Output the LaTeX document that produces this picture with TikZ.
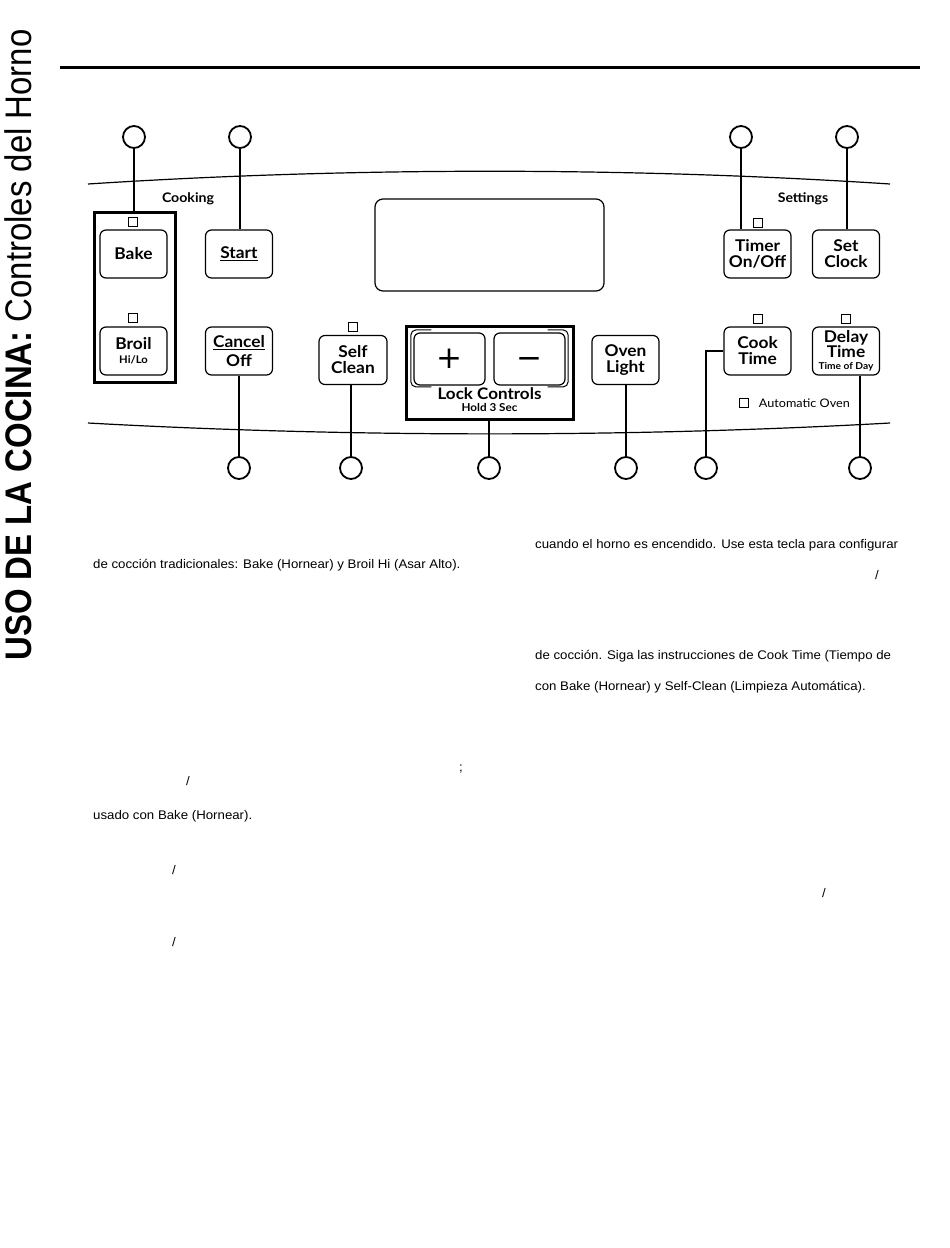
\documentclass[tikz,border=0pt]{standalone}
\usepackage{fontspec}
\setmainfont{Liberation Sans}
\newfontfamily\keyfont{Lato}[FakeStretch=1.07]
\newfontfamily\titlefont{Liberation Sans}[FakeStretch=0.89]
\newfontfamily\bodyfont{Liberation Sans}[FakeStretch=1.06]
\newfontfamily\symfont{DejaVu Sans}
\usetikzlibrary{positioning, calc}

\begin{document}
\begin{tikzpicture}[x=1pt, y=-1pt,
                key/.style={draw, line width=1.2pt, rounded corners=6pt, minimum width=67pt, minimum height=48pt, inner sep=1pt, align=center, font=\keyfont\bfseries\fontsize{16.2}{16}\selectfont},
                grp/.style={draw, line width=3pt, inner sep=0pt},
                ring/.style={draw, circle, line width=1.8pt, minimum size=22pt, inner sep=0pt},
                lamp/.style={draw, line width=1pt, minimum size=8.5pt, inner sep=0pt},
                link/.style={line width=1.8pt},
                panel/.style={line width=1.2pt},
                lbl/.style={font=\keyfont\bfseries\fontsize{13.2}{13}\selectfont},
                body/.style={anchor=base west, inner sep=0pt, font=\bodyfont\fontsize{12.5}{13}\selectfont},
            ]
            \useasboundingbox (0,0) rectangle (950,1248);

            % Side title and top rule:
            \node[rotate=90] (title) at (18,345) {\titlefont\fontsize{37}{37}\selectfont\bfseries USO DE LA COCINA: \mdseries Controles del Horno};
            \draw[line width=3pt] (60,67) -- (920,67);

            % Panel edges:
            \draw[panel] (88,184) .. controls (350,167) and (630,167) .. (890,184);
            \draw[panel] (88,423) .. controls (350,437.5) and (630,437.5) .. (890,423);

            % Keys:
            \node[grp, minimum width=81pt, minimum height=170pt] (cookgrp) at (134.5,297) {};
            \node[key] (bake)  at (133.5,254) {Bake};
            \node[key] (broil) at (133.5,351) {Broil\\[-2pt]{\fontsize{10.5}{10}\selectfont Hi/Lo}};
            \node[key] (start)  at (239,254) {\underline{Start}};
            \node[key] (cancel) at (239,351) {\underline{Cancel}\\[3pt]Off};
            \node[key, minimum height=49pt, minimum width=68pt] (self) at (353,360) {Self\\Clean};
            \node[grp, minimum width=167pt, minimum height=93pt] (lockgrp) at (489.5,372.5) {};
            \node[key, minimum width=71pt, minimum height=52pt, font=\symfont\fontsize{31}{31}\selectfont] (plus)  at (449.5,359) {+};
            \node[key, minimum width=71pt, minimum height=52pt, font=\symfont\fontsize{31}{31}\selectfont] (minus) at (529.5,359) {\vphantom{+}−};
            \node[key, minimum height=49pt] (light) at (625.5,360) {Oven\\Light};
            \node[key] (timer) at (757.5,254) {Timer\\On/Off};
            \node[key] (clock) at (846,254) {Set\\Clock};
            \node[key] (cook)  at (757.5,351) {Cook\\Time};
            \node[key] (delay) at (846,351) {Delay\\[-1.5pt]Time\\[-3.5pt]{\fontsize{9.5}{9}\selectfont Time of Day}};
            \node[draw, line width=1.2pt, rounded corners=8pt, minimum width=229pt, minimum height=92pt] (disp) at (489.5,245) {};

            % Double edges round the plus and minus keys:
            \draw[line width=1pt, rounded corners=5pt] ($(plus.north west)+(18,-2.5)$) -- ++(-20.5,0) -- ++(0,57) -- ++(20.5,0);
            \draw[line width=1pt, rounded corners=5pt] ($(minus.north east)+(-18,-2.5)$) -- ++(20.5,0) -- ++(0,57) -- ++(-20.5,0);

            % Lock controls text:
            \node[font=\keyfont\bfseries\fontsize{15.9}{16}\selectfont, anchor=base] (lock) at (489.5,399) {Lock Controls};
            \node[font=\keyfont\bfseries\fontsize{10.9}{11}\selectfont, anchor=base] (hold) at (489.5,411.5) {Hold 3 Sec};

            % Group labels and lamps:
            \node[lbl] (cooking)  at (188,199) {Cooking};
            \node[lbl] (settings) at (803,199) {Settings};
            \node[lamp] (l1) at (133,222) {};
            \node[lamp] (l2) at (133,318) {};
            \node[lamp] (l3) at (353,327) {};
            \node[lamp] (l4) at (758,223) {};
            \node[lamp] (l5) at (758,319) {};
            \node[lamp] (l6) at (846,319) {};
            \node[lamp] (l7) at (744,403) {};
            \node[right=10pt of l7, inner sep=0pt, font=\keyfont\fontsize{11.8}{12}\selectfont] (auto) {Automatic Oven};

            % Callout rings:
            \node[ring] (r1)  at (134,137) {};
            \node[ring] (r2)  at (240,137) {};
            \node[ring] (r3)  at (741,137) {};
            \node[ring] (r4)  at (847,137) {};
            \node[ring] (r5)  at (239,468) {};
            \node[ring] (r6)  at (351,468) {};
            \node[ring] (r7)  at (489,468) {};
            \node[ring] (r8)  at (626,468) {};
            \node[ring] (r9)  at (706,468) {};
            \node[ring] (r10) at (860,468) {};

            % Leader lines:
            \draw[link] (r1.south) -- (r1.south |- cookgrp.north);
            \draw[link] (r2.south) -- (r2.south |- start.north);
            \draw[link] (r3.south) -- (r3.south |- timer.north);
            \draw[link] (r4.south) -- (r4.south |- clock.north);
            \draw[link] (r5.north |- cancel.south) -- (r5.north);
            \draw[link] (r6.north |- self.south) -- (r6.north);
            \draw[link] (r7.north |- lockgrp.south) -- (r7.north);
            \draw[link] (r8.north |- light.south) -- (r8.north);
            \draw[link] (cook.west) -| (r9.north);
            \draw[link] (r10.north |- delay.south) -- (r10.north);

            % Body text:
            \node[body] (t1)  at (535,548) {cuando el horno es encendido. Use esta tecla para configurar};
            \node[body] (t2)  at (875,579) {/};
            \node[body] (t3)  at (93,568)  {de cocción tradicionales: Bake (Hornear) y Broil Hi (Asar Alto).};
            \node[body] (t4)  at (535,659) {de cocción. Siga las instrucciones de Cook Time (Tiempo de};
            \node[body] (t5)  at (535,690) {con Bake (Hornear) y Self-Clean (Limpieza Automática).};
            \node[body] (t6)  at (459,771) {;};
            \node[body] (t7)  at (186,785) {/};
            \node[body] (t8)  at (93,819)  {usado con Bake (Hornear).};
            \node[body] (t9)  at (172,874) {/};
            \node[body] (t10) at (822,897) {/};
            \node[body] (t11) at (172,946) {/};
        \end{tikzpicture}
\end{document}
